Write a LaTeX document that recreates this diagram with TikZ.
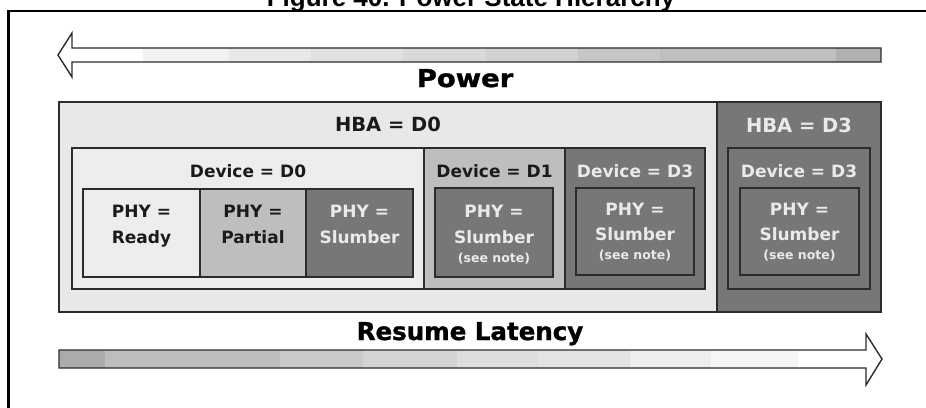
\documentclass[tikz,border=0pt]{standalone}
\usepackage{fontspec}
\setmainfont{DejaVu Sans}
\newfontfamily\titlefont{Liberation Sans}
\newfontfamily\heavyfont[BoldFeatures={FakeBold=1.3}]{DejaVu Sans}
\definecolor{lightfill}{HTML}{E8E8E8}
\definecolor{midfill}{HTML}{BEBEBE}
\definecolor{darkfill}{HTML}{777777}
\definecolor{edge}{HTML}{2C2C2C}
\definecolor{darktext}{HTML}{1A1A1A}
\definecolor{lighttext}{HTML}{EAEAEA}
\begin{document}
\begin{tikzpicture}[x=1pt,y=-1pt,
  stbox/.style={draw=edge,line width=1.3pt,inner sep=0pt,outer sep=0pt},
  lbl/.style={inner sep=0pt,anchor=base,font=\bfseries},
  big/.style={lbl,font=\fontsize{19.5}{22}\selectfont\bfseries},
  mid/.style={lbl,font=\fontsize{17}{20}\selectfont\bfseries},
  small/.style={lbl,font=\fontsize{12.5}{14}\selectfont\bfseries},
  head/.style={lbl,font=\heavyfont\fontsize{24.5}{28}\selectfont\bfseries,text=black},
  arrowedge/.style={draw=edge,line width=1.4pt,line join=miter}]
\useasboundingbox (0,0) rectangle (926,407);
\clip (0,0) rectangle (926,407);
\fill[white] (0,0) rectangle (926,407);

% title (cut at the top, as in the reference)
\node[lbl,font=\titlefont\fontsize{26}{30}\selectfont\bfseries] (title) at (471,6) {Figure 40. Power State Hierarchy};

% frame
\draw[line width=2.2pt] (926,11) -- (8.5,11) -- (8.5,410);

% Power arrow (left pointing)
\begin{scope}
\clip (58,55) -- (72,33) -- (72,48) -- (881,48) -- (881,62) -- (72,62) -- (72,77) -- cycle;
\foreach \a/\b/\k in {50/143/0,143/229/5,229/311/9,311/403/12,403/486/15,486/578/18,578/660/22,660/836/25,836/885/31}
  \fill[black!\k] (\a,30) rectangle (\b,80);
\end{scope}
\draw[arrowedge] (58,55) -- (72,33) -- (72,48) -- (881,48) -- (881,62) -- (72,62) -- (72,77) -- cycle;
\node[head] (power) at (465,87) {\scalebox{1.12}[1]{Power}};

% Resume latency arrow (right pointing)
\begin{scope}
\clip (59,350) -- (866,350) -- (866,334) -- (882,359) -- (866,385) -- (866,368) -- (59,368) -- cycle;
\foreach \a/\b/\k in {55/105/33,105/280/26,280/363/21,363/457/17,457/538/13,538/630/11,630/711/7,711/798/4,798/890/0}
  \fill[black!\k] (\a,330) rectangle (\b,390);
\end{scope}
\draw[arrowedge] (59,350) -- (866,350) -- (866,334) -- (882,359) -- (866,385) -- (866,368) -- (59,368) -- cycle;
\node[head] (resume) at (470,340) {Resume Latency};

% HBA boxes
\node[stbox,fill=lightfill,minimum width=658pt,minimum height=210pt] (hba0) at (388,207) {};
\node[stbox,fill=darkfill,minimum width=164pt,minimum height=210pt] (hba3) at (799,207) {};
\node[big,text=darktext] (hba0t) at (388,131) {HBA = D0};
\node[big,text=lighttext] (hba3t) at (799,132) {HBA = D3};

% Device boxes
\node[stbox,fill=lightfill!80!white,minimum width=352pt,minimum height=141pt] (dev0) at (248,218.5) {};
\node[stbox,fill=midfill,minimum width=141pt,minimum height=141pt] (dev1) at (494.5,218.5) {};
\node[stbox,fill=darkfill,minimum width=140pt,minimum height=141pt] (dev3a) at (635,218.5) {};
\node[stbox,fill=darkfill,minimum width=142pt,minimum height=141pt] (dev3b) at (799,218.5) {};
\node[mid,text=darktext] (dev0t) at (248,177) {Device = D0};
\node[mid,text=darktext] (dev1t) at (494.5,177) {Device = D1};
\node[mid,text=lighttext] (dev3at) at (635,177) {Device = D3};
\node[mid,text=lighttext] (dev3bt) at (799,177) {Device = D3};

% PHY boxes in Device = D0
\node[stbox,fill=lightfill!80!white,minimum width=117pt,minimum height=88pt] (ready) at (141.5,233) {};
\node[stbox,fill=midfill,minimum width=106pt,minimum height=88pt] (partial) at (253,233) {};
\node[stbox,fill=darkfill,minimum width=107pt,minimum height=88pt] (slumber) at (359.5,233) {};
\node[mid,text=darktext] (readya) at (141.5,217) {PHY =};
\node[mid,text=darktext] (readyb) at (141.5,243) {Ready};
\node[mid,text=darktext] (partiala) at (253,217) {PHY =};
\node[mid,text=darktext] (partialb) at (253,243) {Partial};
\node[mid,text=lighttext] (slumbera) at (359.5,217) {PHY =};
\node[mid,text=lighttext] (slumberb) at (359.5,243) {Slumber};

% PHY boxes in other devices
\node[stbox,fill=darkfill,minimum width=118pt,minimum height=89pt] (phy1) at (494,232.5) {};
\node[stbox,fill=darkfill,minimum width=118pt,minimum height=87pt] (phy3a) at (635,231.5) {};
\node[stbox,fill=darkfill,minimum width=119pt,minimum height=87pt] (phy3b) at (799.5,231.5) {};
\foreach \n/\cx/\ya/\yb/\yc in {phy1/494/217/243/262,phy3a/635/215/240/259,phy3b/799.5/215/240/259}{
  \node[mid,text=lighttext] (\n a) at (\cx,\ya) {PHY =};
  \node[mid,text=lighttext] (\n b) at (\cx,\yb) {Slumber};
  \node[small,text=lighttext] (\n c) at (\cx,\yc) {(see note)};
}
\end{tikzpicture}
\end{document}
